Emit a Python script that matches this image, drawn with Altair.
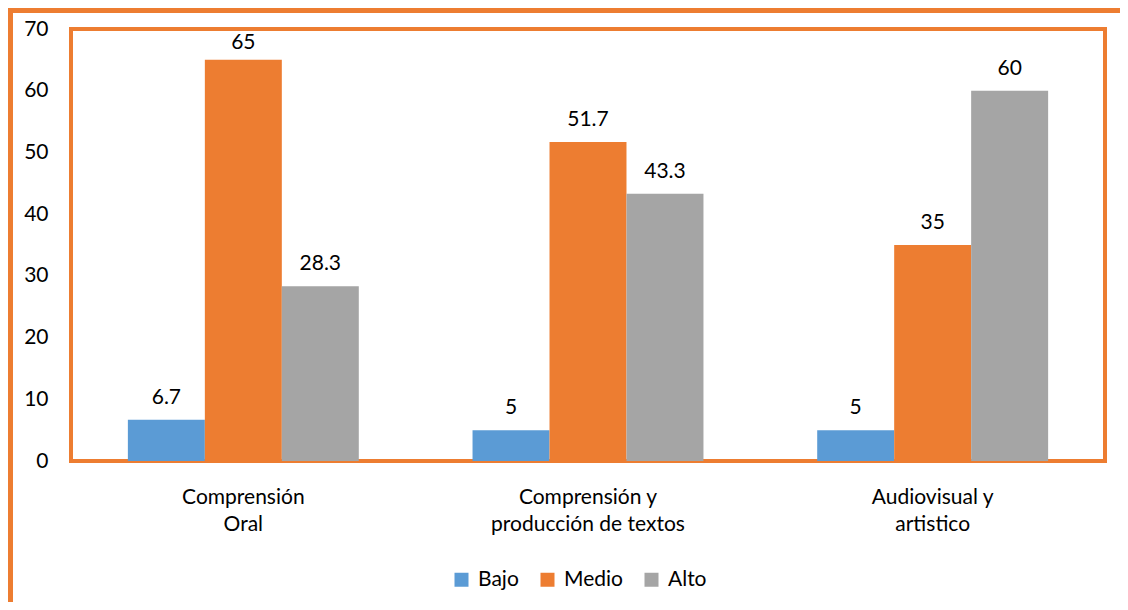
import json
import altair as alt
import pandas as pd

categories = ["Comprensión Oral", "Comprensión y producción de textos", "Audiovisual y artistico"]
label_lines = [["Comprensión", "Oral"], ["Comprensión y", "producción de textos"], ["Audiovisual y", "artistico"]]
series = ["Bajo", "Medio", "Alto"]
bajo = [6.7, 5, 5]
medio = [65, 51.7, 35]
alto = [28.3, 43.3, 60]
colors = ["#5B9BD5", "#ED7D31", "#A5A5A5"]
y_ticks = [0, 10, 20, 30, 40, 50, 60, 70]

rows = []
for i, c in enumerate(categories):
    for s, vals in zip(series, [bajo, medio, alto]):
        rows.append({"categoria": c, "nivel": s, "valor": vals[i]})
df = pd.DataFrame(rows)

expr = "datum.label"
for c, lines in reversed(list(zip(categories, label_lines))):
    expr = f"datum.label == {json.dumps(c, ensure_ascii=False)} ? {json.dumps(lines, ensure_ascii=False)} : ({expr})"

FONT = "Lato"
ORANGE = "#ED7D31"

base = alt.Chart(df)

x_enc = alt.X("categoria:N", sort=categories, title=None,
              scale=alt.Scale(paddingInner=0.33, paddingOuter=0.165),
              axis=alt.Axis(labelAngle=0, labelExpr=expr, ticks=False, domain=False,
                            labelFont=FONT, labelFontSize=21, labelColor="black",
                            labelPadding=25, labelLineHeight=27, labelBaseline="top",
                            labelLimit=0))
xoff = alt.XOffset("nivel:N", sort=series, scale=alt.Scale(paddingInner=0, paddingOuter=0))

bars = base.mark_bar().encode(
    x=x_enc,
    xOffset=xoff,
    y=alt.Y("valor:Q", title=None, scale=alt.Scale(domain=[0, 70], nice=False),
            axis=alt.Axis(values=y_ticks, grid=False, ticks=False, domain=False,
                          labelFont=FONT, labelFontSize=21, labelColor="black",
                          labelPadding=23)),
    color=alt.Color("nivel:N", sort=series,
                    scale=alt.Scale(domain=series, range=colors),
                    legend=alt.Legend(title=None, orient="none", legendX=380, legendY=540,
                                      direction="horizontal", symbolType="square",
                                      symbolSize=196, symbolStrokeWidth=0,
                                      labelFont=FONT, labelFontSize=21, labelColor="black",
                                      labelOffset=6, columnPadding=18)),
)

labels = base.transform_calculate(
    pos="min(datum.valor + 2.6, 66.8)"
).mark_text(font=FONT, fontSize=21, color="black", baseline="alphabetic").encode(
    x=alt.X("categoria:N", sort=categories),
    xOffset=xoff,
    y=alt.Y("pos:Q"),
    text=alt.Text("valor:Q", format=".1~f"),
)

one = alt.Chart(pd.DataFrame({"k": [0]}))
top_line = one.mark_rule(color=ORANGE, strokeWidth=5).encode(
    x=alt.value(-67), x2=alt.value(1060), y=alt.value(-18.5))
left_line = one.mark_rule(color=ORANGE, strokeWidth=5).encode(
    x=alt.value(-60.5), y=alt.value(-21), y2=alt.value(580))

chart = alt.layer(bars, labels, top_line, left_line).properties(
    width=1034, height=432,
    autosize=alt.AutoSizeParams(type="none"),
    padding={"left": 63, "top": 21, "right": 15, "bottom": 141},
).configure(
    background="white"
).configure_view(
    stroke=ORANGE, strokeWidth=4
)

chart.save("out.html", embed_options={"renderer": "svg", "actions": False})
